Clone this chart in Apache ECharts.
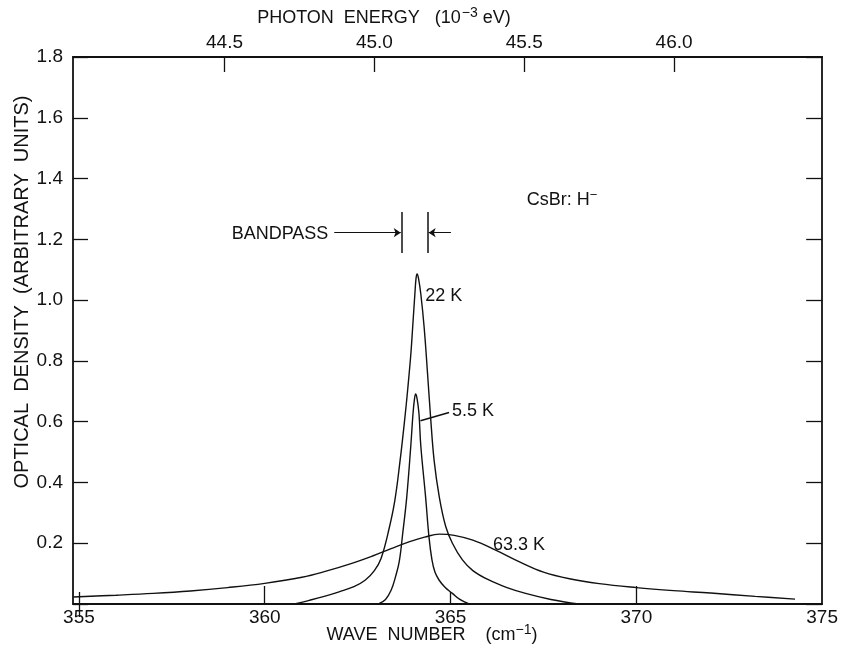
<!DOCTYPE html>
<html>
<head>
<meta charset="utf-8">
<script src="https://cdn.jsdelivr.net/npm/echarts@6/dist/echarts.min.js"></script>
<style>
html, body { margin: 0; padding: 0; background: #fff; }
#main { width: 841px; height: 648px; }
</style>
</head>
<body>
<div id="main"></div>
<script>
// wave number axis (cm-1) and photon energy axis (meV)
const wnMin = 354.84;
const wnMax = 375;
const cmToMeV = 0.123984;
const wnLabels = [355, 360, 365, 370, 375];
const wnLongTicks = [360, 370];
const wnShortTicks = [355, 365];
const evLabels = [44.5, 45.0, 45.5, 46.0];

// optical density curves [wave number, OD]
const curve22K = [
  [360.8, 0.0], [361.2, 0.012], [361.6, 0.025], [362.0, 0.04], [362.4, 0.057],
  [362.7, 0.078], [362.95, 0.11], [363.13, 0.15], [363.35, 0.25], [363.5, 0.34],
  [363.64, 0.47], [363.76, 0.6], [363.85, 0.71], [363.93, 0.82], [363.98, 0.91],
  [364.04, 1.02], [364.07, 1.07], [364.1, 1.086], [364.14, 1.07], [364.2, 1.02],
  [364.29, 0.91], [364.38, 0.76], [364.46, 0.62], [364.56, 0.47], [364.7, 0.35],
  [364.87, 0.255], [365.05, 0.2], [365.32, 0.145], [365.6, 0.11], [366.03, 0.079],
  [366.5, 0.055], [367.02, 0.035], [367.7, 0.015], [368.45, 0.0]
];
const curve5_5K = [
  [363.06, 0.0], [363.25, 0.015], [363.4, 0.045], [363.52, 0.09], [363.62, 0.14],
  [363.72, 0.24], [363.82, 0.35], [363.93, 0.52], [363.99, 0.627], [364.03, 0.675],
  [364.06, 0.691], [364.1, 0.675], [364.15, 0.627], [364.2, 0.52], [364.33, 0.35],
  [364.42, 0.22], [364.5, 0.145], [364.58, 0.105], [364.69, 0.079], [364.85, 0.055],
  [365.05, 0.035], [365.25, 0.015], [365.5, 0.0]
];
const curve63_3K = [
  [354.85, 0.023], [356.0, 0.029], [357.0, 0.035], [358.0, 0.043], [359.0, 0.054],
  [360.0, 0.068], [361.0, 0.088], [361.65, 0.108], [362.3, 0.132], [362.9, 0.158],
  [363.4, 0.182], [363.9, 0.205], [364.3, 0.22], [364.7, 0.23], [365.1, 0.226],
  [365.6, 0.21], [366.2, 0.178], [366.9, 0.136], [367.5, 0.105], [368.2, 0.083],
  [369.0, 0.067], [370.0, 0.054], [371.0, 0.044], [372.0, 0.036], [373.2, 0.025],
  [374.27, 0.016]
];

// bandpass marker and leader line, in data coordinates
const bandpassBars = [
  [[363.68, 1.155], [363.68, 1.29]],
  [[364.39, 1.155], [364.39, 1.29]]
];
const bandpassArrows = [
  [[361.87, 1.222], [363.66, 1.222]],
  [[365.01, 1.222], [364.41, 1.222]]
];
const leader5_5K = [[364.19, 0.603], [364.96, 0.63]];

// curve labels [text, wave number, OD]
const notes = [
  ['22 K', 364.32, 1.015],
  ['5.5 K', 365.04, 0.635],
  ['63.3 K', 366.14, 0.194],
  ['BANDPASS', 359.11, 1.216]
];

const ink = '#111';
const font = 'Liberation Sans';

const chart = echarts.init(document.getElementById('main'));

const lineSeries = (name, data) => ({
  name: name,
  type: 'line',
  data: data,
  xAxisIndex: 0,
  yAxisIndex: 0,
  showSymbol: false,
  smooth: 0.4,
  lineStyle: { color: ink, width: 1.4 },
  silent: true
});

chart.setOption({
  animation: false,
  backgroundColor: '#fff',
  grid: { left: 73, right: 17, top: 57, bottom: 44 },
  xAxis: [
    {
      type: 'value', position: 'bottom', min: wnMin, max: wnMax,
      axisLine: { onZero: false, lineStyle: { color: ink, width: 1.8 } },
      axisTick: { inside: true, length: 18, customValues: wnLongTicks, lineStyle: { color: ink, width: 1.3 } },
      axisLabel: { customValues: wnLabels, color: ink, fontFamily: font, fontSize: 19, margin: 4 },
      splitLine: { show: false }
    },
    {
      type: 'value', position: 'bottom', min: wnMin, max: wnMax,
      axisLine: { show: false },
      axisTick: { inside: true, length: 12, customValues: wnShortTicks, lineStyle: { color: ink, width: 1.3 } },
      axisLabel: { show: false },
      splitLine: { show: false }
    },
    {
      type: 'value', position: 'top', min: wnMin * cmToMeV, max: wnMax * cmToMeV,
      axisLine: { onZero: false, lineStyle: { color: ink, width: 1.8 } },
      axisTick: { inside: true, length: 15, customValues: evLabels, lineStyle: { color: ink, width: 1.3 } },
      axisLabel: { customValues: evLabels, formatter: v => v.toFixed(1), color: ink, fontFamily: font, fontSize: 19, margin: 5 },
      splitLine: { show: false }
    },
    {
      type: 'value', position: 'top', min: wnMin, max: wnMax,
      axisLine: { show: false },
      axisTick: { inside: true, length: 13, customValues: [355], lineStyle: { color: ink, width: 1.3 } },
      axisLabel: { show: false },
      splitLine: { show: false }
    }
  ],
  yAxis: [
    {
      type: 'value', position: 'left', min: 0, max: 1.8, interval: 0.2,
      axisLine: { onZero: false, lineStyle: { color: ink, width: 1.8 } },
      axisTick: { inside: true, length: 15, lineStyle: { color: ink, width: 1.3 } },
      axisLabel: { formatter: v => (v === 0 ? '' : v.toFixed(1)), color: ink, fontFamily: font, fontSize: 19, margin: 10 },
      splitLine: { show: false }
    },
    {
      type: 'value', position: 'right', min: 0, max: 1.8, interval: 0.2,
      axisLine: { onZero: false, lineStyle: { color: ink, width: 1.8 } },
      axisTick: { inside: true, length: 16, lineStyle: { color: ink, width: 1.3 } },
      axisLabel: { show: false },
      splitLine: { show: false }
    }
  ],
  series: [
    lineSeries('22 K', curve22K),
    lineSeries('5.5 K', curve5_5K),
    lineSeries('63.3 K', curve63_3K),
    {
      type: 'lines', coordinateSystem: 'cartesian2d', xAxisIndex: 0, yAxisIndex: 0,
      symbol: 'none', silent: true,
      lineStyle: { color: ink, width: 1.5, opacity: 1 },
      data: bandpassBars.concat([leader5_5K]).map(c => ({ coords: c }))
    },
    {
      type: 'lines', coordinateSystem: 'cartesian2d', xAxisIndex: 0, yAxisIndex: 0,
      symbol: ['none', 'arrow'], symbolSize: [0, 7], silent: true,
      lineStyle: { color: ink, width: 1.2, opacity: 1 },
      data: bandpassArrows.map(c => ({ coords: c }))
    }
  ]
});

// text annotations placed through the axes
const px = (x, y) => chart.convertToPixel({ xAxisIndex: 0, yAxisIndex: 0 }, [x, y]);
const txt = { fill: ink, fontFamily: font, fontSize: 18 };
const graphics = notes.map(n => {
  const p = px(n[1], n[2]);
  return { type: 'text', x: p[0], y: p[1], style: Object.assign({ text: n[0], verticalAlign: 'middle' }, txt) };
});
const cs = px(367.05, 1.33);
graphics.push({
  type: 'text', x: cs[0], y: cs[1],
  style: { text: '{n|CsBr: H}{s|−}', verticalAlign: 'middle',
    rich: { n: { fontFamily: font, fontSize: 18, fill: ink }, s: { fontFamily: font, fontSize: 13, fill: ink, padding: [0, 0, 8, 0] } } }
});
graphics.push({
  type: 'text', x: 384, y: 18,
  style: { text: '{n|PHOTON  ENERGY   (10}{s|−3}{n| eV)}', align: 'center', verticalAlign: 'middle',
    rich: { n: { fontFamily: font, fontSize: 18, fill: ink }, s: { fontFamily: font, fontSize: 14, fill: ink, padding: [0, 0, 9, 1] } } }
});
graphics.push({
  type: 'text', x: 432, y: 635,
  style: { text: '{n|WAVE  NUMBER    (cm}{s|−1}{n|)}', align: 'center', verticalAlign: 'middle',
    rich: { n: { fontFamily: font, fontSize: 18, fill: ink }, s: { fontFamily: font, fontSize: 14, fill: ink, padding: [0, 0, 9, 0] } } }
});
graphics.push({
  type: 'text', x: 22, y: 292, rotation: Math.PI / 2,
  style: { text: 'OPTICAL  DENSITY  (ARBITRARY  UNITS)', align: 'center', verticalAlign: 'middle',
    fontFamily: font, fontSize: 20, fill: ink }
});
chart.setOption({ graphic: graphics });
</script>
</body>
</html>
